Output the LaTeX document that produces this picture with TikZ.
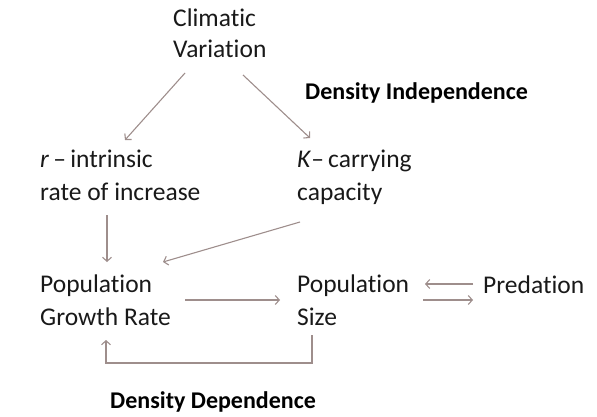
\documentclass[tikz,border=0pt]{standalone}
\usepackage{fontspec}
\setmainfont{Carlito}[Ligatures={NoCommon}]
\usetikzlibrary{arrows.meta,calc}
\definecolor{arrowc}{RGB}{158,142,140}
\definecolor{textc}{RGB}{25,25,25}
\tikzset{
  lbl/.style={anchor=base west, inner sep=0pt, align=left, text=textc,
    font=\fontsize{25.5pt}{32.5pt}\selectfont},
  boldlbl/.style={anchor=base west, inner sep=0pt, text=black,
    font=\fontsize{24pt}{30pt}\selectfont\bfseries},
  conn/.style={draw=arrowc, line width=1.1pt, -{Straight Barb[length=4pt,width=9pt]}}
}
\begin{document}
\begin{tikzpicture}[x=1pt,y=-1pt]
\useasboundingbox (0,0) rectangle (597,417);
% base west of a multi-line node = baseline of its last line
\node[lbl, font=\fontsize{25.5pt}{31pt}\selectfont] (clim) at (173,58) {Climatic\\Variation};
\node[lbl] (rint) at (40,200) {\textit{r}\,–\,intrinsic\\rate of increase};
\node[lbl] (kcap) at (297,200) {\textit{K}–\,carrying\\capacity};
\node[lbl] (pgr) at (40,325) {Population\\Growth Rate};
\node[lbl] (psize) at (297,325) {Population\\Size};
\node[lbl] (pred) at (483,293) {Predation};
\node[boldlbl] (dind) at (305,100) {Density Independence};
\node[boldlbl] (ddep) at (110,408) {Density Dependence};

\draw[conn] ($(clim.base west)+(12,15)$) -- ($(rint.base west)+(85,-60)$);
\draw[conn] ($(clim.base west)+(70,17)$) -- ($(kcap.base west)+(13,-62)$);
\draw[conn] ($(rint.base west)+(67,15)$) -- ($(pgr.base west)+(67,-63)$);
\draw[conn] ($(kcap.base west)+(3,22)$) -- ($(pgr.base west)+(123,-63)$);
\draw[conn] ($(pgr.base west)+(145,-25)$) -- ($(psize.base west)+(-17,-25)$);
\draw[conn] ($(pred.base west)+(-10,-9)$) -- ($(psize.base west)+(128,-41)$);
\draw[conn] ($(psize.base west)+(126,-25)$) -- ($(pred.base west)+(-10,7)$);
\draw[conn] ($(psize.base west)+(15,10)$) -- ++(0,28) -| ($(pgr.base west)+(66,15)$);
\end{tikzpicture}
\end{document}
